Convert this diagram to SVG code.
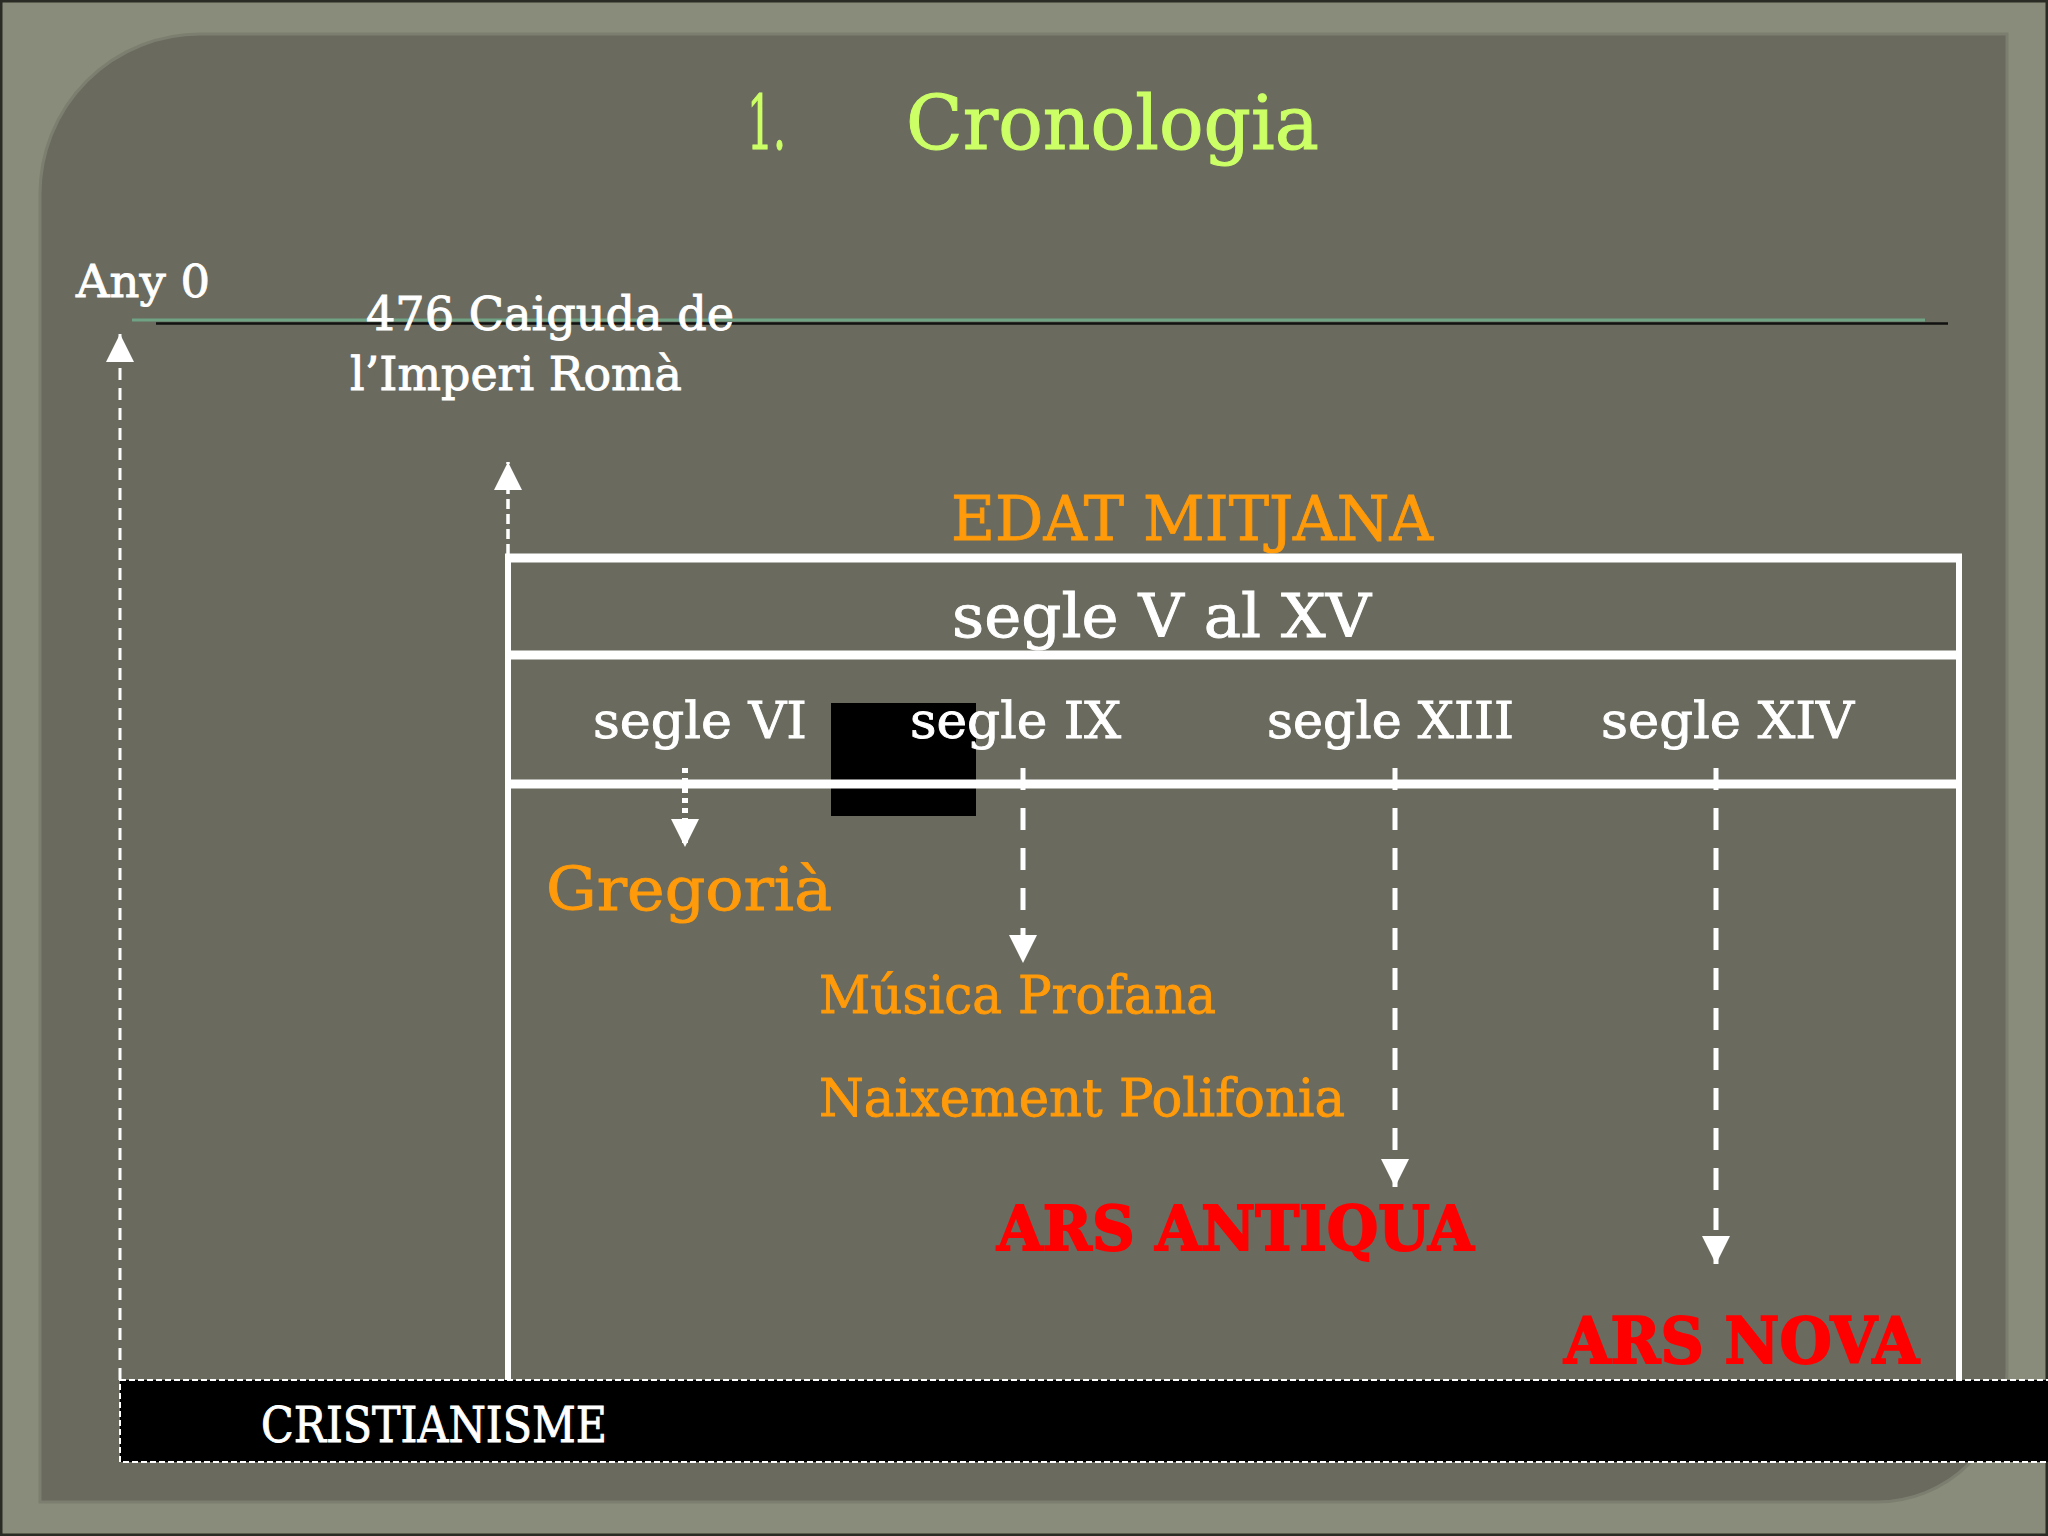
<svg xmlns="http://www.w3.org/2000/svg" width="2048" height="1536" viewBox="0 0 2048 1536">
  <style>
    text { font-family: "DejaVu Serif", "Liberation Serif", serif; }
    .white { fill: #ffffff; stroke: #ffffff; stroke-width: 0.9; }
    .orange { fill: #ff9a0a; stroke: #ff9a0a; stroke-width: 0.9; }
    .red { fill: #ff0000; stroke: #ff0000; stroke-width: 2; font-weight: bold; }
    .title { fill: #ccff66; stroke: #ccff66; stroke-width: 1; }
    .tbl { stroke: #ffffff; fill: none; }
    .conn { stroke: #ffffff; fill: none; }
  </style>
  <defs>
    <marker id="head" markerUnits="userSpaceOnUse" markerWidth="30" markerHeight="30" refX="28" refY="14" orient="auto">
      <path d="M0,0 L28,14 L0,28 z" fill="#ffffff"/>
    </marker>
  </defs>

  <!-- background -->
  <rect x="0" y="0" width="2048" height="1536" fill="#898c7a"/>
  <rect x="1" y="1" width="2046" height="1534" fill="none" stroke="#2a2b25" stroke-width="3"/>
  <path id="panel" d="M40,194 A160,160 0 0 1 200,34 L2007,34 L2007,1372 A130,130 0 0 1 1877,1502 L40,1502 Z" fill="#6a6b5e" stroke="#7c7f6f" stroke-width="3"/>

  <!-- title -->
  <g id="title">
    <text class="title" x="747" y="149" font-size="74" textLength="39" lengthAdjust="spacingAndGlyphs">1.</text>
    <text class="title" x="906" y="149" font-size="74" textLength="413" lengthAdjust="spacingAndGlyphs">Cronologia</text>
  </g>

  <!-- timeline axis -->
  <g id="axis">
    <line x1="156" y1="323.5" x2="1948" y2="323.5" stroke="#111111" stroke-width="2.5"/>
    <line x1="132" y1="320" x2="1925" y2="320" stroke="#6fa383" stroke-width="3"/>
  </g>

  <g id="any0">
    <text class="white" x="76" y="297" font-size="45" textLength="134" lengthAdjust="spacingAndGlyphs">Any 0</text>
  </g>

  <g id="caiguda">
    <text class="white" x="366" y="330" font-size="46" textLength="368" lengthAdjust="spacingAndGlyphs">476 Caiguda de</text>
    <text class="white" x="350" y="390" font-size="46" textLength="332" lengthAdjust="spacingAndGlyphs">l’Imperi Romà</text>
  </g>

  <g id="edat-mitjana">
    <text class="orange" x="951" y="540" font-size="62" textLength="482" lengthAdjust="spacingAndGlyphs">EDAT MITJANA</text>
  </g>

  <!-- black square -->
  <rect id="black-box" x="831" y="703" width="145" height="113" fill="#000000"/>

  <!-- table -->
  <g id="table">
    <line class="tbl" x1="505" y1="558" x2="1962" y2="558" stroke-width="9"/>
    <line class="tbl" x1="508" y1="655" x2="1959" y2="655" stroke-width="9"/>
    <line class="tbl" x1="508" y1="784" x2="1959" y2="784" stroke-width="9"/>
    <line class="tbl" x1="508" y1="554" x2="508" y2="1380" stroke-width="6"/>
    <line class="tbl" x1="1959" y1="554" x2="1959" y2="1380" stroke-width="6"/>
  </g>

  <g id="segle-v-xv">
    <text class="white" x="952" y="637" font-size="60" textLength="419" lengthAdjust="spacingAndGlyphs">segle V al XV</text>
  </g>
  <g id="segle-vi">
    <text class="white" x="593" y="738" font-size="50" textLength="214" lengthAdjust="spacingAndGlyphs">segle VI</text>
  </g>
  <g id="segle-ix">
    <text class="white" x="910" y="738" font-size="50" textLength="211" lengthAdjust="spacingAndGlyphs">segle IX</text>
  </g>
  <g id="segle-xiii">
    <text class="white" x="1267" y="738" font-size="50" textLength="247" lengthAdjust="spacingAndGlyphs">segle XIII</text>
  </g>
  <g id="segle-xiv">
    <text class="white" x="1601" y="738" font-size="50" textLength="253" lengthAdjust="spacingAndGlyphs">segle XIV</text>
  </g>

  <g id="gregoria">
    <text class="orange" x="546" y="910" font-size="59" textLength="286" lengthAdjust="spacingAndGlyphs">Gregorià</text>
  </g>
  <g id="musica-profana">
    <text class="orange" x="819" y="1013" font-size="52" textLength="397" lengthAdjust="spacingAndGlyphs">Música Profana</text>
  </g>
  <g id="naixement-polifonia">
    <text class="orange" x="819" y="1116" font-size="52" textLength="526" lengthAdjust="spacingAndGlyphs">Naixement Polifonia</text>
  </g>
  <g id="ars-antiqua">
    <text class="red" x="997" y="1250" font-size="62" textLength="477" lengthAdjust="spacingAndGlyphs">ARS ANTIQUA</text>
  </g>
  <g id="ars-nova">
    <text class="red" x="1564" y="1363" font-size="63" textLength="355" lengthAdjust="spacingAndGlyphs">ARS NOVA</text>
  </g>

  <!-- cristianisme bar -->
  <g id="cristianisme">
    <rect x="120" y="1380" width="1930" height="82" fill="#000000" stroke="#ffffff" stroke-width="2" stroke-dasharray="6 3"/>
    <text class="white" x="261" y="1442" font-size="48" textLength="346" lengthAdjust="spacingAndGlyphs">CRISTIANISME</text>
  </g>

  <!-- connectors -->
  <g id="connectors">
    <line class="conn" x1="120" y1="1380" x2="120" y2="334" stroke-width="3" stroke-dasharray="12 8" marker-end="url(#head)"/>
    <line class="conn" x1="508" y1="554" x2="508" y2="462" stroke-width="3.5" stroke-dasharray="10 5" marker-end="url(#head)"/>
    <line class="conn" x1="685" y1="768" x2="685" y2="847" stroke-width="6" stroke-dasharray="5 5" marker-end="url(#head)"/>
    <line class="conn" x1="1023" y1="768" x2="1023" y2="963" stroke-width="5" stroke-dasharray="22 18" marker-end="url(#head)"/>
    <line class="conn" x1="1395" y1="768" x2="1395" y2="1187" stroke-width="5" stroke-dasharray="22 18" marker-end="url(#head)"/>
    <line class="conn" x1="1716" y1="768" x2="1716" y2="1264" stroke-width="5" stroke-dasharray="22 18" marker-end="url(#head)"/>
  </g>
</svg>
